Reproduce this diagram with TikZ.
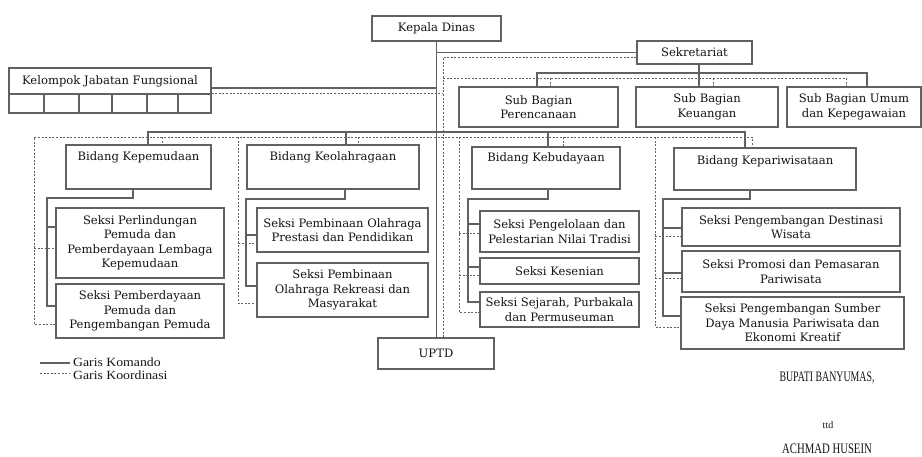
\documentclass[tikz,border=0pt]{standalone}
\usepackage{fontspec}
\setmainfont{DejaVu Serif}
\newfontfamily\timesf{Liberation Serif}
\tikzset{
  ln/.style={draw=black!62, line width=1.1pt},
  co/.style={draw=black!62, line width=0.9pt, dash pattern=on 2pt off 1.6pt},
  box/.style={draw=black!62, line width=1.1pt, fill=white, inner sep=1pt, align=center,
    font=\fontsize{11.6}{14.5}\selectfont, text=black!92},
  lbl/.style={inner sep=1pt, align=center, font=\fontsize{11.6}{14.5}\selectfont, text=black!92},
  sig/.style={inner sep=0pt, font=\timesf\fontsize{14.5}{15}\selectfont, text=black!92},
  leg/.style={inner sep=0pt, font=\timesf\fontsize{12.5}{13}\selectfont, text=black!92},
}
\newcommand\orgbox[6]{\node[box, minimum width={(#4)-(#2)}, minimum height={(#5)-(#3)}] (#1) at ({((#2)+(#4))/2},{((#3)+(#5))/2}) {#6};}
\begin{document}
\begin{tikzpicture}[x=1pt,y=-1pt]
\useasboundingbox (0,0) rectangle (922,456);
% top level
\orgbox{kd}{372}{16}{501}{41}{Kepala Dinas}
\orgbox{sek}{637}{41}{752}{64}{Sekretariat}
\orgbox{sbp}{459}{87}{618}{127}{Sub Bagian\\Perencanaan}
\orgbox{sbk}{636}{87}{778}{127}{Sub Bagian\\Keuangan}
\orgbox{sbu}{787}{87}{921}{127}{Sub Bagian Umum\\dan Kepegawaian}
% kelompok jabatan fungsional
\orgbox{kjf}{9}{68}{211}{94}{Kelompok Jabatan Fungsional}
\orgbox{kc1}{9}{94}{44}{113}{}
\orgbox{kc2}{44}{94}{79}{113}{}
\orgbox{kc3}{79}{94}{112}{113}{}
\orgbox{kc4}{112}{94}{147}{113}{}
\orgbox{kc5}{147}{94}{178}{113}{}
\orgbox{kc6}{178}{94}{211}{113}{}
% bidang
\orgbox{bkp}{66}{145}{211}{189}{}
\orgbox{bko}{247}{145}{419}{189}{}
\orgbox{bkb}{472}{147}{620}{189}{}
\orgbox{bkw}{674}{148}{856}{190}{}
\node[lbl, anchor=north] (bkpt) at ([yshift=-6pt]bkp.north) {Bidang Kepemudaan};
\node[lbl, anchor=north] (bkot) at ([yshift=-6pt]bko.north) {Bidang Keolahragaan};
\node[lbl, anchor=north] (bkbt) at ([yshift=-5pt]bkb.north) {Bidang Kebudayaan};
\node[lbl, anchor=north] (bkwt) at ([yshift=-7pt]bkw.north) {Bidang Kepariwisataan};
% seksi
\orgbox{s11}{56}{208}{224}{278}{Seksi Perlindungan\\Pemuda dan\\Pemberdayaan Lembaga\\Kepemudaan}
\orgbox{s12}{56}{284}{224}{338}{Seksi Pemberdayaan\\Pemuda dan\\Pengembangan Pemuda}
\orgbox{s21}{257}{208}{428}{252}{Seksi Pembinaan Olahraga\\Prestasi dan Pendidikan}
\orgbox{s22}{257}{263}{428}{317}{Seksi Pembinaan\\Olahraga Rekreasi dan\\Masyarakat}
\orgbox{s31}{480}{211}{639}{252}{Seksi Pengelolaan dan\\Pelestarian Nilai Tradisi}
\orgbox{s32}{480}{258}{639}{284}{Seksi Kesenian}
\orgbox{s33}{480}{292}{639}{327}{Seksi Sejarah, Purbakala\\dan Permuseuman}
\orgbox{s41}{682}{208}{900}{246}{Seksi Pengembangan Destinasi\\Wisata}
\orgbox{s42}{682}{251}{900}{292}{Seksi Promosi dan Pemasaran\\Pariwisata}
\orgbox{s43}{681}{297}{904}{349}{Seksi Pengembangan Sumber\\Daya Manusia Pariwisata dan\\Ekonomi Kreatif}
\orgbox{uptd}{378}{338}{494}{369}{UPTD}
% command lines
\draw[ln] (kd.south) -- (kd.south |- uptd.north);
\draw[ln] (kd.south |- sek.west) -- (sek.west);
\draw[ln] (kjf.east |- 0,88) -- (kd.south |- 0,88);
\draw[ln] (sek.south -| 699,0) -- (sbk.north -| 699,0);
\draw[ln] (sbp.north -| 537,0) -- (537,73) -- (867,73) -- (sbu.north -| 867,0);
\draw[ln] (bkp.north -| 148,0) -- (148,132) -- (745,132) -- (bkw.north -| 745,0);
\draw[ln] (346,132) -- (bko.north -| 346,0);
\draw[ln] (548,132) -- (bkb.north -| 548,0);
\draw[ln] (bkp.south -| 133,0) -- (133,198) -- (47,198) -- (47,306) -- (s12.west |- 0,306);
\draw[ln] (47,227) -- (s11.west |- 0,227);
\draw[ln] (bko.south -| 345,0) -- (345,199) -- (246,199) -- (246,286) -- (s22.west |- 0,286);
\draw[ln] (246,235) -- (s21.west |- 0,235);
\draw[ln] (bkb.south -| 548,0) -- (548,199) -- (468,199) -- (468,302) -- (s33.west |- 0,302);
\draw[ln] (468,224) -- (s31.west |- 0,224);
\draw[ln] (468,267) -- (s32.west |- 0,267);
\draw[ln] (bkw.south -| 750,0) -- (750,199) -- (663,199) -- (663,316) -- (s43.west |- 0,316);
\draw[ln] (663,228) -- (s41.west |- 0,228);
\draw[ln] (663,273) -- (s42.west |- 0,273);
% coordination lines
\draw[co] (sek.west |- 0,57) -- (443,57) -- (uptd.north -| 443,0);
\draw[co] (443,78) -- (846,78) -- (sbu.north -| 846,0);
\draw[co] (550,78) -- (sbp.north -| 550,0);
\draw[co] (713,78) -- (sbk.north -| 713,0);
\draw[co] (kjf.east |- 0,93) -- (443,93);
\draw[co] (s12.west |- 0,324) -- (34,324) -- (34,137) -- (752,137) -- (bkw.north -| 752,0);
\draw[co] (162,137) -- (bkp.north -| 162,0);
\draw[co] (358,137) -- (bko.north -| 358,0);
\draw[co] (563,137) -- (bkb.north -| 563,0);
\draw[co] (34,248) -- (s11.west |- 0,248);
\draw[co] (238,137) -- (238,303) -- (s22.west |- 0,303);
\draw[co] (238,243) -- (s21.west |- 0,243);
\draw[co] (459,137) -- (459,312) -- (s33.west |- 0,312);
\draw[co] (459,233) -- (s31.west |- 0,233);
\draw[co] (459,275) -- (s32.west |- 0,275);
\draw[co] (655,137) -- (655,327) -- (s43.west |- 0,327);
\draw[co] (655,236) -- (s41.west |- 0,236);
\draw[co] (655,278) -- (s42.west |- 0,278);
% legend
\coordinate (la1) at (40,363);
\coordinate (lb1) at (70,363);
\coordinate (la2) at (40,373);
\coordinate (lb2) at (70,373);
\draw[ln] (la1) -- (lb1);
\draw[co] (la2) -- (lb2);
\node[leg, anchor=west] (lg1) at (73,362) {\scalebox{1.1}[1]{Garis Komando}};
\node[leg, anchor=west] (lg2) at (73,375) {\scalebox{1.1}[1]{Garis Koordinasi}};
% signature
\node[sig] (bup) at (827,378) {\scalebox{0.68}[1]{BUPATI BANYUMAS,}};
\node[sig, font=\timesf\fontsize{10}{11}\selectfont] (ttd) at (828,425) {ttd};
\node[sig] (nm) at (827,449) {\scalebox{0.74}[1]{ACHMAD HUSEIN}};
\end{tikzpicture}
\end{document}
